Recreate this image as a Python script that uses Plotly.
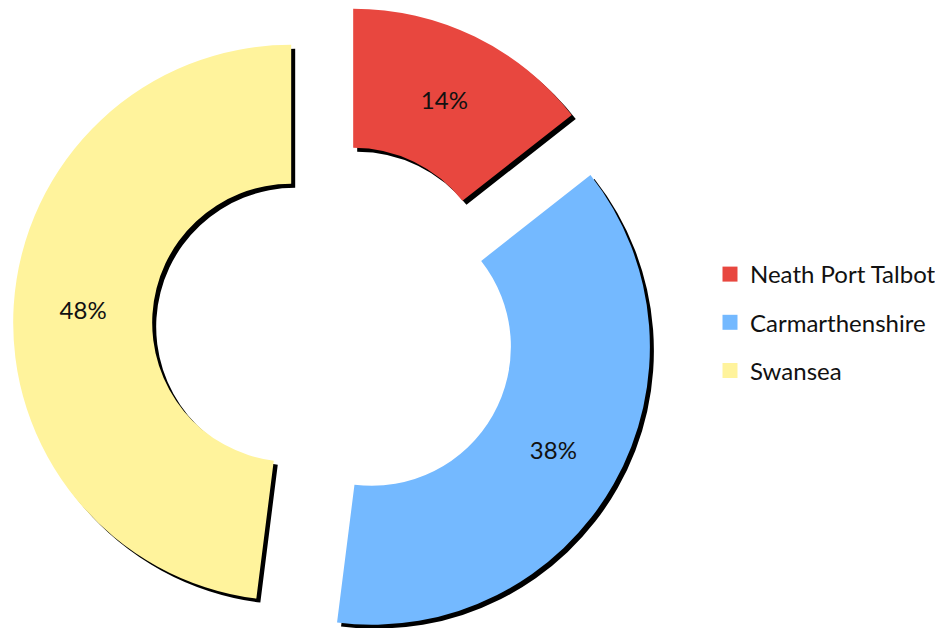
import math
import plotly.graph_objects as go

labels = ["Neath Port Talbot", "Carmarthenshire", "Swansea"]
shares = [14.4, 37.6, 48.0]
colors = ["#e8473f", "#74b9ff", "#fff39c"]

W, H = 943, 628
PAGE = 8                # default body margin of the html page (px)
CX, CY = 334.3 - PAGE, 325.5 - PAGE   # donut centre (px, paper)
R = 278                 # outer radius (px)
PULL = 43.2             # explode distance (px)
SHADOW = 4              # drop shadow offset (px)
FONT = "Lato, sans-serif"

total = sum(shares)


def box(px, py):
    # pie domain (paper fractions) for a pie of radius R centred at px, py
    return dict(x=[(px - R) / W, (px + R) / W],
                y=[1 - (py + R) / H, 1 - (py - R) / H])


slices = []
start = 0
for lab, val, col in zip(labels, shares, colors):
    mid = math.radians(360 * (start + val / 2) / total)
    px = CX + PULL * math.sin(mid)
    py = CY - PULL * math.cos(mid)
    slices.append((lab, val, col, 360 * start / total, px, py))
    start += val

fig = go.Figure()

# shadows first so they sit underneath
for lab, val, col, rot, px, py in slices:
    fig.add_trace(go.Pie(
        values=[val, total - val], labels=[lab, "other"],
        sort=False, direction="clockwise", rotation=rot, hole=0.5,
        marker=dict(colors=["#000000", "rgba(0,0,0,0)"], line=dict(width=0)),
        textinfo="none", hoverinfo="skip", showlegend=False,
        domain=box(px + SHADOW, py + SHADOW),
    ))

for lab, val, col, rot, px, py in slices:
    fig.add_trace(go.Pie(
        values=[val, total - val], labels=[lab, "other"],
        sort=False, direction="clockwise", rotation=rot, hole=0.5,
        marker=dict(colors=[col, "rgba(0,0,0,0)"], line=dict(width=0)),
        texttemplate=["%{percent:.0%}", ""], textposition="inside",
        insidetextorientation="horizontal",
        textfont=dict(size=24, color="#111111", family=FONT),
        hovertemplate="%{label}: %{percent:.0%}<extra></extra>",
        showlegend=False,
        domain=box(px, py),
    ))

# legend entries
for lab, col in zip(labels, colors):
    fig.add_trace(go.Scatter(
        x=[None], y=[None], mode="markers", name=lab, legendgroup=lab,
        marker=dict(symbol="square", size=15, color=col, line=dict(width=0)),
    ))

fig.update_layout(
    width=W, height=H,
    margin=dict(l=0, r=0, t=0, b=0),
    paper_bgcolor="white", plot_bgcolor="white",
    font=dict(family=FONT, color="#111111"),
    xaxis=dict(visible=False), yaxis=dict(visible=False),
    showlegend=True,
    legend=dict(
        x=702 / W, y=1 - 244 / H, xanchor="left", yanchor="top",
        font=dict(size=24, family=FONT, color="#111111"),
        traceorder="grouped", tracegroupgap=14,
        bgcolor="rgba(0,0,0,0)",
    ),
)

fig.write_html("out.html")
